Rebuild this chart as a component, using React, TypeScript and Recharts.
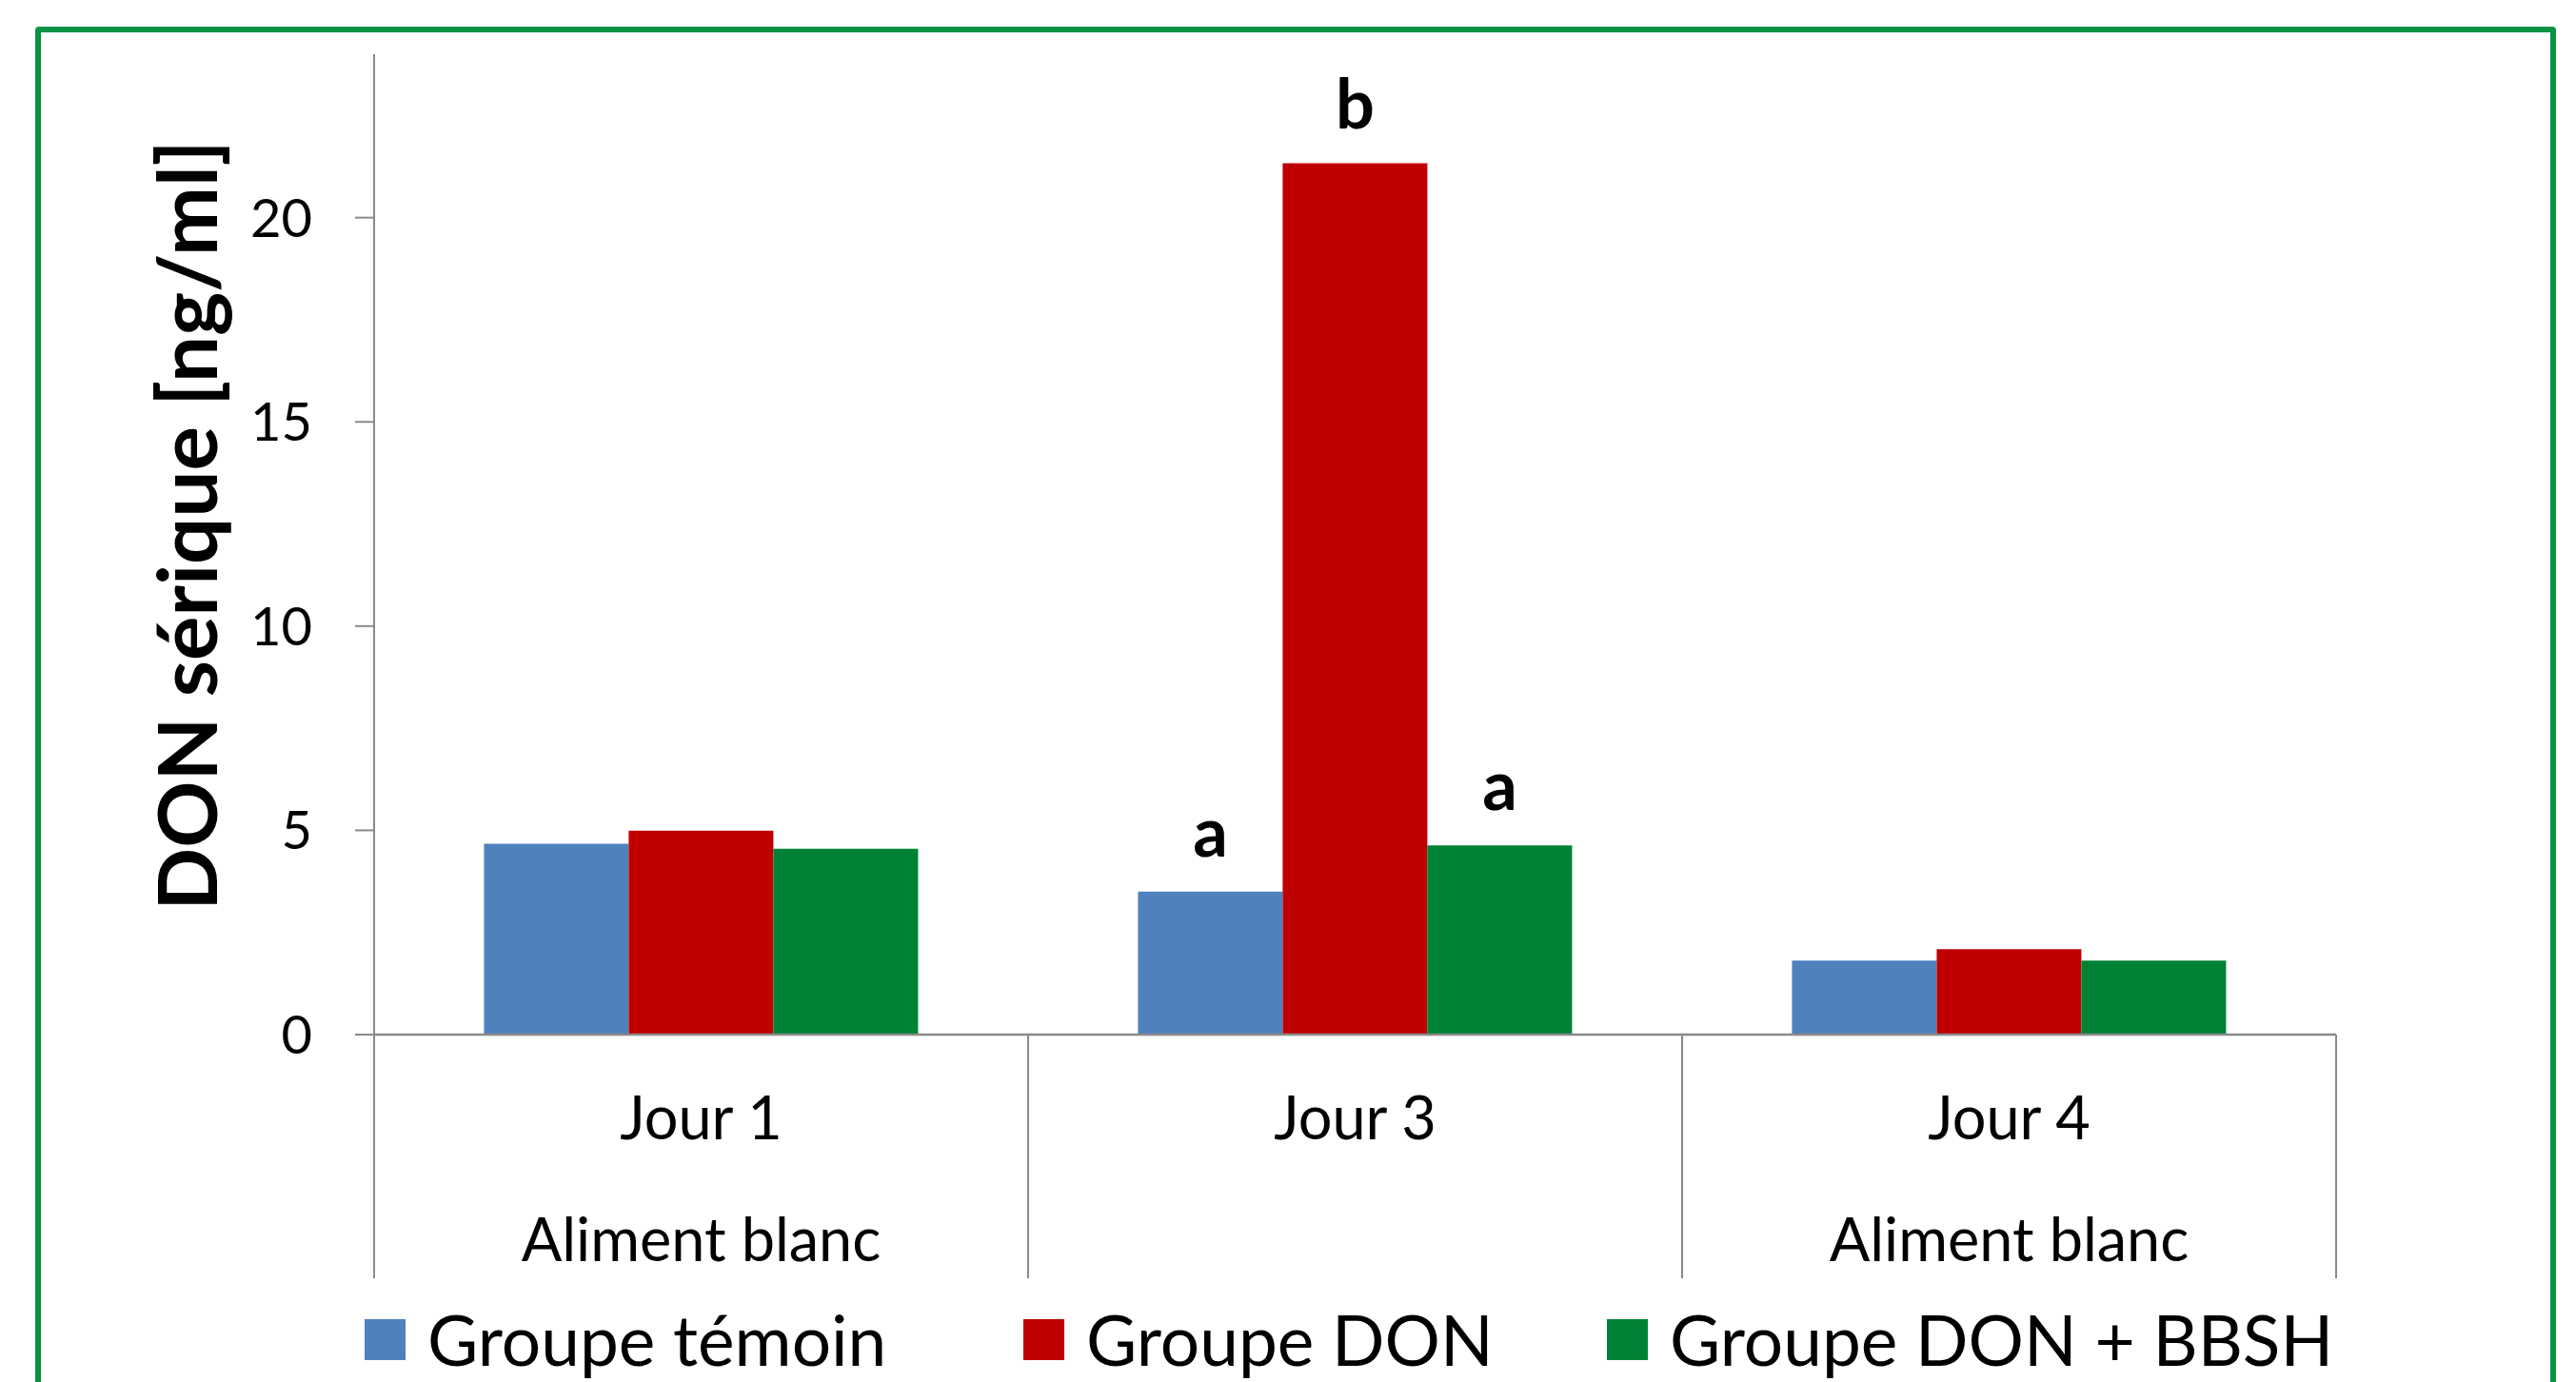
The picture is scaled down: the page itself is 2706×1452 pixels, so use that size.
import React from 'react'
import { BarChart, Bar, XAxis, YAxis, Legend, LabelList } from 'recharts'

// valeurs (ng/ml)
const categories = ['Jour 1', 'Jour 3', 'Jour 4']
const feedLabels = ['Aliment blanc', '', 'Aliment blanc']
const groupeTemoin = [4.67, 3.5, 1.81]
const groupeDon = [4.99, 21.33, 2.09]
const groupeDonBbsh = [4.55, 4.63, 1.81]
const lettersTemoin = ['', 'a', '']
const lettersDon = ['', 'b', '']
const lettersDonBbsh = ['', 'a', '']
const yTicks = [0, 5, 10, 15, 20]

const series = [
  { key: 'temoin', letters: 'lTemoin', name: 'Groupe témoin', color: '#4F81BD' },
  { key: 'don', letters: 'lDon', name: 'Groupe DON', color: '#C00000' },
  { key: 'donBbsh', letters: 'lDonBbsh', name: 'Groupe DON + BBSH', color: '#008236' },
]

// left edge of each legend swatch
const legendLeft = [383, 1075, 1688]

const data = categories.map((day, i) => ({
  day,
  temoin: groupeTemoin[i],
  don: groupeDon[i],
  donBbsh: groupeDonBbsh[i],
  lTemoin: lettersTemoin[i],
  lDon: lettersDon[i],
  lDonBbsh: lettersDonBbsh[i],
}))

const font = 'Lato, "Open Sans", sans-serif'
const axisGrey = '#8a8a8a'

function DayTick(props: any) {
  const { x, y, payload, index, visibleTicksCount, width } = props
  const half = width / visibleTicksCount / 2
  const feed = feedLabels[index]
  return (
    <g>
      <line x1={x - half} y1={y} x2={x - half} y2={y + 256} stroke={axisGrey} strokeWidth={2} />
      {index === visibleTicksCount - 1 && (
        <line x1={x + half} y1={y} x2={x + half} y2={y + 256} stroke={axisGrey} strokeWidth={2} />
      )}
      <text x={x} y={y + 85} textAnchor="middle" dominantBaseline="central" fontFamily={font} fontSize={63} fill="#000">
        {payload.value}
      </text>
      {feed && (
        <text x={x} y={y + 213} textAnchor="middle" dominantBaseline="central" fontFamily={font} fontSize={63} fill="#000">
          {feed}
        </text>
      )}
    </g>
  )
}

function renderLetter(props: any) {
  const { x, y, width, value } = props
  if (!value) return null
  return (
    <text x={x + width / 2} y={y - 65} textAnchor="middle" dominantBaseline="central" fontFamily={font} fontWeight="bold" fontSize={72} fill="#000">
      {value}
    </text>
  )
}

function YTitle(props: any) {
  const { viewBox } = props
  const cx = viewBox.x + 194
  const cy = viewBox.y + viewBox.height / 2 - 20
  return (
    <text x={cx} y={cy} transform={`rotate(-90, ${cx}, ${cy})`} textAnchor="middle" dominantBaseline="central" fontFamily={font} fontWeight="bold" fontSize={87} fill="#000">
      DON sérique [ng/ml]
    </text>
  )
}

function LegendBox() {
  return (
    <div style={{ position: 'relative', height: 100, fontFamily: font, fontSize: 73, color: '#000', whiteSpace: 'nowrap' }}>
      {series.map((s, i) => (
        <div key={s.key} style={{ position: 'absolute', left: legendLeft[i], top: 10, height: 90, display: 'flex', alignItems: 'center' }}>
          <div style={{ width: 43, height: 43, background: s.color, marginRight: 23 }} />
          <span style={{ lineHeight: '90px' }}>{s.name}</span>
        </div>
      ))}
    </div>
  )
}

export default function App() {
  return (
    <div style={{ position: 'absolute', left: 0, top: 0, width: 2706, height: 1452, overflow: 'hidden', background: '#fff' }}>
      <div style={{ position: 'absolute', left: 37, top: 28, width: 2648, height: 1600, border: '6px solid #0B9144', borderRadius: 4, boxSizing: 'border-box' }} />
      <div style={{ position: 'absolute', left: 0, top: 0 }}>
        <BarChart width={2706} height={1452} data={data} margin={{ top: 57, right: 252, left: 0, bottom: 0 }} barCategoryGap="16.8%" barGap={0}>
          <XAxis dataKey="day" height={265} tick={<DayTick />} tickLine={false} tickSize={0} tickMargin={0} axisLine={{ stroke: axisGrey, strokeWidth: 2.5 }} interval={0} />
          <YAxis
            width={393}
            domain={[0, 24]}
            ticks={yTicks}
            tickSize={20}
            tickMargin={45}
            tickLine={{ stroke: axisGrey, strokeWidth: 2 }}
            axisLine={{ stroke: axisGrey, strokeWidth: 2 }}
            tick={{ fontFamily: font, fontSize: 56, fill: '#000' }}
            label={{ content: <YTitle /> }}
          />
          <Legend verticalAlign="bottom" content={<LegendBox />} />
          {series.map((s) => (
            <Bar key={s.key} dataKey={s.key} name={s.name} fill={s.color} isAnimationActive={false}>
              <LabelList dataKey={s.letters} content={renderLetter} />
            </Bar>
          ))}
        </BarChart>
      </div>
    </div>
  )
}
